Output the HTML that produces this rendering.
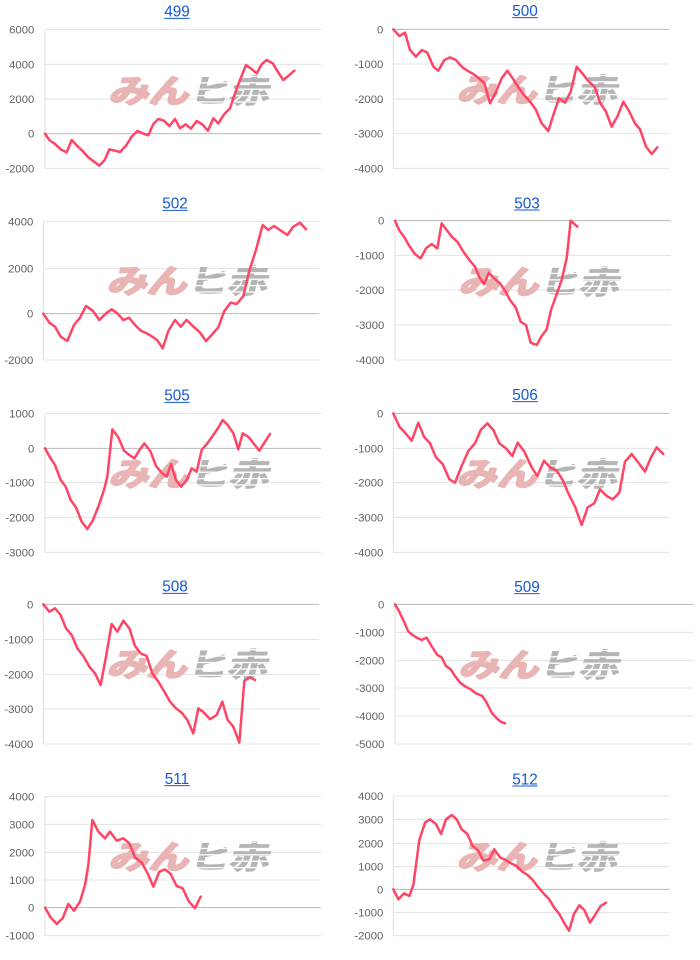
<!DOCTYPE html>
<html><head><meta charset="utf-8"><style>
html,body{margin:0;padding:0;background:#fff;}
svg{display:block;}
.t{font-family:"Liberation Sans",Arial,sans-serif;font-size:46px;fill:#1558d6;text-anchor:middle;}
.l{font-family:"Liberation Sans",Arial,sans-serif;font-size:34px;fill:#616161;text-anchor:end;}
.g{stroke:#e3e3e3;stroke-width:3;}
.b{stroke:#b8b8b8;stroke-width:3;}
.a{stroke:#dedede;stroke-width:3;}
.d{fill:none;stroke:#ff4566;stroke-width:7.5;stroke-linejoin:round;stroke-linecap:round;}
.u{stroke:#1558d6;stroke-width:3;}
.wp{font-family:"Noto Sans CJK JP","Liberation Sans",sans-serif;font-size:120px;font-weight:bold;fill:#e9b4b4;stroke:#e9b4b4;stroke-width:8;stroke-linejoin:round;}
.wg{font-family:"Noto Sans CJK JP","Liberation Sans",sans-serif;font-size:120px;font-weight:bold;fill:url(#st);stroke:url(#st);stroke-width:4;stroke-linejoin:round;}
</style></head><body>
<svg width="700" height="960" viewBox="0 0 700 960" xmlns="http://www.w3.org/2000/svg">
<defs>
<pattern id="st" patternUnits="userSpaceOnUse" width="20" height="24"><rect x="0" y="0" width="20" height="19" fill="#b5b5b5"/></pattern>
</defs>

<!-- 499 -->
<g transform="translate(0,0) scale(0.333333)">
<text class="t" x="531" y="50">499</text><line class="u" x1="493" y1="55" x2="569" y2="55"/>
<line class="g" x1="135" y1="88" x2="963" y2="88"/><line class="g" x1="135" y1="193" x2="963" y2="193"/><line class="g" x1="135" y1="297" x2="963" y2="297"/><line class="b" x1="135" y1="401" x2="963" y2="401"/><line class="g" x1="135" y1="505" x2="963" y2="505"/>
<line class="a" x1="135" y1="88" x2="135" y2="505"/>
<text class="l" x="103" y="100">6000</text><text class="l" x="103" y="205">4000</text><text class="l" x="103" y="309">2000</text><text class="l" x="103" y="413">0</text><text class="l" x="103" y="517">-2000</text>
<g transform="translate(325,308) skewX(-14) scale(1,0.8)"><text class="wp" x="0" y="0">みん</text><text class="wg" x="240" y="0">ヒ赤</text></g>
<polyline class="d" points="135,401 148,420 165,432 182,448 200,457 215,420 230,436 248,453 265,472 282,485 298,497 314,480 328,448 345,452 360,456 378,437 395,410 412,393 428,400 445,406 460,372 475,357 492,362 508,378 525,357 540,385 557,373 573,386 590,363 607,373 624,392 640,355 655,370 673,342 690,325 705,280 720,240 738,195 752,205 770,220 785,193 800,180 818,190 835,218 850,240 867,226 883,212"/>
</g>

<!-- 500 -->
<g transform="translate(350,0) scale(0.333333)">
<text class="t" x="525" y="48">500</text><line class="u" x1="487" y1="53" x2="563" y2="53"/>
<line class="g" x1="130" y1="192" x2="958" y2="192"/><line class="g" x1="130" y1="297" x2="958" y2="297"/><line class="g" x1="130" y1="401" x2="958" y2="401"/><line class="g" x1="130" y1="505" x2="958" y2="505"/><line class="b" x1="130" y1="88" x2="958" y2="88"/>
<line class="a" x1="130" y1="88" x2="130" y2="505"/>
<text class="l" x="100" y="100">0</text><text class="l" x="100" y="204">-1000</text><text class="l" x="100" y="309">-2000</text><text class="l" x="100" y="413">-3000</text><text class="l" x="100" y="517">-4000</text>
<g transform="translate(320,305) skewX(-14) scale(1,0.8)"><text class="wp" x="0" y="0">みん</text><text class="wg" x="240" y="0">ヒ赤</text></g>
<polyline class="d" points="130,88 148,108 165,98 180,150 198,170 215,150 232,158 250,200 265,212 283,180 300,172 318,180 335,200 352,212 370,222 387,235 403,250 420,310 438,275 455,235 472,212 490,238 505,262 522,285 540,305 557,328 575,370 595,393 610,345 627,295 645,308 662,275 680,200 697,220 715,243 735,262 750,308 768,335 785,380 802,350 820,305 838,335 855,370 870,388 888,440 905,462 922,442"/>
</g>

<!-- 502 -->
<g transform="translate(0,190) scale(0.333333)">
<text class="t" x="525" y="56">502</text><line class="u" x1="487" y1="61" x2="563" y2="61"/>
<line class="g" x1="130" y1="95" x2="958" y2="95"/><line class="g" x1="130" y1="235" x2="958" y2="235"/><line class="b" x1="130" y1="371" x2="958" y2="371"/><line class="g" x1="130" y1="510" x2="958" y2="510"/>
<line class="a" x1="130" y1="95" x2="130" y2="510"/>
<text class="l" x="100" y="107">4000</text><text class="l" x="100" y="247">2000</text><text class="l" x="100" y="383">0</text><text class="l" x="100" y="522">-2000</text>
<g transform="translate(320,308) skewX(-14) scale(1,0.8)"><text class="wp" x="0" y="0">みん</text><text class="wg" x="240" y="0">ヒ赤</text></g>
<polyline class="d" points="130,371 148,398 165,410 182,440 202,453 222,405 240,383 258,348 278,362 298,390 318,370 335,358 352,370 370,390 387,383 405,405 422,422 440,430 457,440 473,452 488,475 505,423 525,390 542,410 560,390 578,408 598,425 618,453 635,435 655,412 672,365 692,338 710,342 730,318 750,235 768,180 788,105 805,120 822,108 840,120 862,135 880,110 900,98 918,118"/>
</g>

<!-- 503 -->
<g transform="translate(350,190) scale(0.333333)">
<text class="t" x="531" y="55">503</text><line class="u" x1="493" y1="60" x2="569" y2="60"/>
<line class="g" x1="135" y1="196" x2="963" y2="196"/><line class="g" x1="135" y1="300" x2="963" y2="300"/><line class="g" x1="135" y1="405" x2="963" y2="405"/><line class="g" x1="135" y1="510" x2="963" y2="510"/><line class="b" x1="135" y1="92" x2="963" y2="92"/>
<line class="a" x1="135" y1="92" x2="135" y2="510"/>
<text class="l" x="103" y="104">0</text><text class="l" x="103" y="208">-1000</text><text class="l" x="103" y="312">-2000</text><text class="l" x="103" y="417">-3000</text><text class="l" x="103" y="522">-4000</text>
<g transform="translate(325,310) skewX(-14) scale(1,0.8)"><text class="wp" x="0" y="0">みん</text><text class="wg" x="240" y="0">ヒ赤</text></g>
<polyline class="d" points="135,92 148,122 162,140 178,168 195,192 212,205 228,175 245,162 262,175 275,100 290,120 305,140 322,155 340,185 358,210 375,230 387,260 402,282 417,248 432,265 450,280 467,305 480,330 497,352 512,395 528,405 542,458 560,465 575,438 590,418 603,360 618,318 635,270 650,205 662,92 682,110"/>
</g>

<!-- 505 -->
<g transform="translate(0,380) scale(0.333333)">
<text class="t" x="531" y="62">505</text><line class="u" x1="493" y1="67" x2="569" y2="67"/>
<line class="g" x1="135" y1="100" x2="963" y2="100"/><line class="g" x1="135" y1="308" x2="963" y2="308"/><line class="g" x1="135" y1="412" x2="963" y2="412"/><line class="g" x1="135" y1="517" x2="963" y2="517"/><line class="b" x1="135" y1="205" x2="963" y2="205"/>
<line class="a" x1="135" y1="100" x2="135" y2="517"/>
<text class="l" x="103" y="112">1000</text><text class="l" x="103" y="217">0</text><text class="l" x="103" y="320">-1000</text><text class="l" x="103" y="424">-2000</text><text class="l" x="103" y="529">-3000</text>
<g transform="translate(325,317) skewX(-14) scale(1,0.8)"><text class="wp" x="0" y="0">みん</text><text class="wg" x="240" y="0">ヒ赤</text></g>
<polyline class="d" points="135,205 150,232 165,255 182,300 197,320 212,360 228,382 245,425 262,447 278,422 295,380 312,330 322,290 337,148 355,172 372,212 388,225 403,235 420,208 433,190 452,215 468,258 485,278 500,290 513,252 528,300 543,320 560,300 575,265 590,275 605,210 622,190 640,165 655,143 668,120 683,135 700,160 715,208 728,160 747,172 762,192 778,212 793,188 810,162"/>
</g>

<!-- 506 -->
<g transform="translate(350,380) scale(0.333333)">
<text class="t" x="525" y="60">506</text><line class="u" x1="487" y1="65" x2="563" y2="65"/>
<line class="g" x1="130" y1="205" x2="958" y2="205"/><line class="g" x1="130" y1="308" x2="958" y2="308"/><line class="g" x1="130" y1="412" x2="958" y2="412"/><line class="g" x1="130" y1="517" x2="958" y2="517"/><line class="b" x1="130" y1="100" x2="958" y2="100"/>
<line class="a" x1="130" y1="100" x2="130" y2="517"/>
<text class="l" x="100" y="112">0</text><text class="l" x="100" y="217">-1000</text><text class="l" x="100" y="320">-2000</text><text class="l" x="100" y="424">-3000</text><text class="l" x="100" y="529">-4000</text>
<g transform="translate(320,317) skewX(-14) scale(1,0.8)"><text class="wp" x="0" y="0">みん</text><text class="wg" x="240" y="0">ヒ赤</text></g>
<polyline class="d" points="130,100 148,140 165,158 185,182 205,128 222,170 240,190 258,232 278,252 298,298 315,308 335,258 355,213 375,190 392,150 412,130 430,150 448,190 468,205 487,228 503,188 523,215 545,262 562,288 582,242 600,262 620,272 638,300 655,340 675,380 695,435 713,382 733,370 750,328 770,348 788,358 808,338 825,245 845,222 865,248 885,275 903,232 920,202 940,222"/>
</g>

<!-- 508 -->
<g transform="translate(0,570) scale(0.333333)">
<text class="t" x="525" y="65">508</text><line class="u" x1="487" y1="70" x2="563" y2="70"/>
<line class="g" x1="130" y1="208" x2="958" y2="208"/><line class="g" x1="130" y1="313" x2="958" y2="313"/><line class="g" x1="130" y1="417" x2="958" y2="417"/><line class="g" x1="130" y1="522" x2="958" y2="522"/><line class="b" x1="130" y1="103" x2="958" y2="103"/>
<line class="a" x1="130" y1="103" x2="130" y2="522"/>
<text class="l" x="100" y="115">0</text><text class="l" x="100" y="220">-1000</text><text class="l" x="100" y="325">-2000</text><text class="l" x="100" y="429">-3000</text><text class="l" x="100" y="534">-4000</text>
<g transform="translate(320,318) skewX(-14) scale(1,0.8)"><text class="wp" x="0" y="0">みん</text><text class="wg" x="240" y="0">ヒ赤</text></g>
<polyline class="d" points="130,103 148,125 165,115 182,135 198,175 215,195 232,235 250,258 268,290 285,310 302,345 318,260 335,162 352,185 370,152 388,175 405,228 422,250 440,258 457,310 475,335 493,365 510,395 528,415 545,428 562,450 580,490 595,415 612,428 630,448 650,435 667,395 683,450 700,470 718,518 733,332 750,322 765,330"/>
</g>

<!-- 509 -->
<g transform="translate(350,570) scale(0.333333)">
<text class="t" x="531" y="66">509</text><line class="u" x1="493" y1="71" x2="569" y2="71"/>
<line class="g" x1="135" y1="187" x2="1030" y2="187"/><line class="g" x1="135" y1="271" x2="1030" y2="271"/><line class="g" x1="135" y1="354" x2="1030" y2="354"/><line class="g" x1="135" y1="438" x2="1030" y2="438"/><line class="g" x1="135" y1="522" x2="1030" y2="522"/><line class="b" x1="135" y1="103" x2="1030" y2="103"/>
<line class="a" x1="135" y1="103" x2="135" y2="522"/>
<text class="l" x="103" y="115">0</text><text class="l" x="103" y="199">-1000</text><text class="l" x="103" y="283">-2000</text><text class="l" x="103" y="366">-3000</text><text class="l" x="103" y="450">-4000</text><text class="l" x="103" y="534">-5000</text>
<g transform="translate(325,320) skewX(-14) scale(1,0.8)"><text class="wp" x="0" y="0">みん</text><text class="wg" x="240" y="0">ヒ赤</text></g>
<polyline class="d" points="135,103 148,125 162,155 175,185 195,200 215,210 230,203 247,232 262,255 275,262 288,288 302,298 315,318 330,338 347,350 362,358 378,370 397,378 410,398 425,428 440,445 452,455 465,460"/>
</g>

<!-- 511 -->
<g transform="translate(0,760) scale(0.333333)">
<text class="t" x="531" y="72">511</text><line class="u" x1="493" y1="77" x2="569" y2="77"/>
<line class="g" x1="135" y1="110" x2="963" y2="110"/><line class="g" x1="135" y1="193" x2="963" y2="193"/><line class="g" x1="135" y1="277" x2="963" y2="277"/><line class="g" x1="135" y1="360" x2="963" y2="360"/><line class="g" x1="135" y1="527" x2="963" y2="527"/><line class="b" x1="135" y1="443" x2="963" y2="443"/>
<line class="a" x1="135" y1="110" x2="135" y2="527"/>
<text class="l" x="103" y="122">4000</text><text class="l" x="103" y="205">3000</text><text class="l" x="103" y="289">2000</text><text class="l" x="103" y="372">1000</text><text class="l" x="103" y="455">0</text><text class="l" x="103" y="539">-1000</text>
<g transform="translate(325,325) skewX(-14) scale(1,0.8)"><text class="wp" x="0" y="0">みん</text><text class="wg" x="240" y="0">ヒ赤</text></g>
<polyline class="d" points="135,443 152,472 170,492 188,475 205,432 222,452 240,425 255,375 265,315 277,180 295,215 315,235 330,215 350,242 370,235 388,250 405,292 425,308 443,340 460,380 478,335 495,328 512,342 530,378 548,385 567,425 585,445 602,410"/>
</g>

<!-- 512 -->
<g transform="translate(350,760) scale(0.333333)">
<text class="t" x="525" y="73">512</text><line class="u" x1="487" y1="78" x2="563" y2="78"/>
<line class="g" x1="130" y1="108" x2="958" y2="108"/><line class="g" x1="130" y1="178" x2="958" y2="178"/><line class="g" x1="130" y1="250" x2="958" y2="250"/><line class="g" x1="130" y1="320" x2="958" y2="320"/><line class="g" x1="130" y1="458" x2="958" y2="458"/><line class="g" x1="130" y1="527" x2="958" y2="527"/><line class="b" x1="130" y1="388" x2="958" y2="388"/>
<line class="a" x1="130" y1="108" x2="130" y2="527"/>
<text class="l" x="100" y="120">4000</text><text class="l" x="100" y="190">3000</text><text class="l" x="100" y="262">2000</text><text class="l" x="100" y="332">1000</text><text class="l" x="100" y="400">0</text><text class="l" x="100" y="470">-1000</text><text class="l" x="100" y="539">-2000</text>
<g transform="translate(320,325) skewX(-14) scale(1,0.8)"><text class="wp" x="0" y="0">みん</text><text class="wg" x="240" y="0">ヒ赤</text></g>
<polyline class="d" points="130,388 145,418 162,400 178,408 190,375 208,240 225,188 240,178 258,192 273,222 288,178 305,165 320,178 335,208 352,222 368,258 385,272 400,302 418,298 433,268 450,292 467,300 483,310 500,318 517,335 533,345 548,360 565,382 582,402 598,418 612,442 628,462 642,488 657,512 672,462 688,436 703,450 720,488 737,462 752,438 768,428"/>
</g>
</svg>
</body></html>
